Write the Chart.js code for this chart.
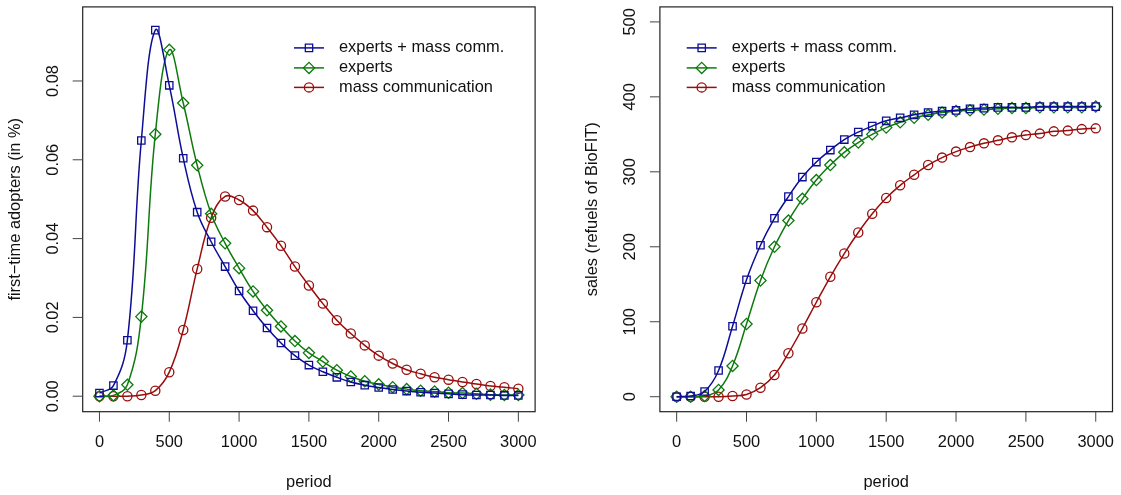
<!DOCTYPE html>
<html>
<head>
<meta charset="utf-8">
<script src="https://cdn.jsdelivr.net/npm/chart.js@4/dist/chart.umd.min.js"></script>
<style>
html, body { margin: 0; padding: 0; background: #fff; }
#wrap { position: relative; width: 1121px; height: 495px; }
canvas { position: absolute; top: 0; }
</style>
</head>
<body>
<div id="wrap">
<canvas id="adopters" width="560" height="495" style="left:0"></canvas>
<canvas id="sales" width="561" height="495" style="left:560px"></canvas>
</div>
<script>
// periods sampled every 100
var periods = [0,100,200,300,400,500,600,700,800,900,1000,1100,1200,1300,1400,1500,
               1600,1700,1800,1900,2000,2100,2200,2300,2400,2500,2600,2700,2800,2900,3000];

var seriesNames = ['experts + mass comm.', 'experts', 'mass communication'];

// first-time adopters
var adoptBoth = [0.0008,0.0027,0.0142,0.0649,0.0929,0.0789,0.0604,0.0467,0.0392,0.0329,0.0267,
                 0.0217,0.0173,0.0135,0.0103,0.0079,0.0062,0.0048,0.0036,0.0028,0.0022,
                 0.0017,0.0013,0.0010,0.0008,0.0006,0.0004,0.0003,0.0003,0.0002,0.0002];
var adoptExperts = [0,0.0002,0.0029,0.0202,0.0665,0.0879,0.0744,0.0586,0.0463,0.0388,0.0325,
                    0.0266,0.0218,0.0177,0.0140,0.0110,0.0088,0.0066,0.0050,0.0038,0.0030,
                    0.0023,0.0018,0.0014,0.0012,0.0009,0.0008,0.0006,0.0004,0.0003,0.0003];
var adoptMass = [0,0,0,0.0003,0.0014,0.0061,0.0168,0.0323,0.0453,0.0507,0.0498,
                 0.0471,0.0429,0.0382,0.0329,0.0281,0.0235,0.0193,0.0159,0.0129,0.0103,
                 0.0083,0.0067,0.0057,0.0048,0.0042,0.0036,0.0031,0.0026,0.0023,0.0019];

// sales (refuels of BioFIT)
var salesBoth = [0,1,7,35,94,156,202,238,267,293,313,329,343,353,361,368,
                 372,376,379,381,382,384,385,386,386,386,387,387,387,387,387];
var salesExperts = [0,0,1,9,41,97,155,200,235,264,289,309,326,339,350,359,
                    366,372,376,379,381,382,383,384,385,385,386,386,386,386,387];
var salesMass = [0,0,0,0,1,3,12,29,58,91,126,160,191,219,244,265,
                 282,296,309,319,327,333,338,342,346,349,351,354,355,357,358];

var xTicks = [0,500,1000,1500,2000,2500,3000];
var adoptTicks = [0,0.02,0.04,0.06,0.08];
var salesTicks = [0,100,200,300,400,500];

var colors = ['#0d0d96', '#0d7a0d', '#9a0d0d'];
var styles = ['rect', 'rectRot', 'circle'];
var radii = [5.2, 5.6, 4.6];
var FONT = '16.4px "Liberation Sans", Arial, Helvetica, sans-serif';

function makeSets(values) {
    return values.map(function (vals, i) {
        return {
            label: seriesNames[i],
            data: periods.map(function (p, j) { return {x: p, y: vals[j]}; }),
            borderColor: colors[i],
            borderWidth: 1.5,
            tension: 0.4,
            fill: false,
            pointStyle: styles[i],
            pointRadius: radii[i],
            pointBorderWidth: 1.3,
            pointBorderColor: colors[i],
            pointBackgroundColor: 'rgba(0,0,0,0)'
        };
    });
}

// R-like frame: box, outward ticks, rotated y labels, titles and legend
var rFrame = {
    id: 'rFrame',
    afterDraw: function (chart, args, o) {
        var ctx = chart.ctx, a = chart.chartArea;
        var xs = chart.scales.x, ys = chart.scales.y;
        ctx.save();
        ctx.strokeStyle = '#222';
        ctx.lineWidth = 1.2;
        ctx.strokeRect(a.left, a.top, a.right - a.left, a.bottom - a.top);

        ctx.font = FONT;
        ctx.fillStyle = '#111';
        ctx.strokeStyle = '#444';
        ctx.lineWidth = 1;
        ctx.textAlign = 'center';
        ctx.textBaseline = 'middle';
        o.xTicks.forEach(function (v) {
            var px = xs.getPixelForValue(v);
            ctx.beginPath();
            ctx.moveTo(px, a.bottom);
            ctx.lineTo(px, a.bottom + 10);
            ctx.stroke();
            ctx.fillText(String(v), px, a.bottom + 31);
        });
        o.yTicks.forEach(function (v) {
            var py = ys.getPixelForValue(v);
            ctx.beginPath();
            ctx.moveTo(a.left - 10, py);
            ctx.lineTo(a.left, py);
            ctx.stroke();
            ctx.save();
            ctx.translate(a.left - 29, py);
            ctx.rotate(-Math.PI / 2);
            ctx.fillText(o.yFormat(v), 0, 0);
            ctx.restore();
        });

        ctx.fillText(o.xTitle, (a.left + a.right) / 2, a.bottom + 71);
        ctx.save();
        ctx.translate(a.left - 67, (a.top + a.bottom) / 2);
        ctx.rotate(-Math.PI / 2);
        ctx.fillText(o.yTitle, 0, 0);
        ctx.restore();

        // legend
        ctx.textAlign = 'left';
        chart.data.datasets.forEach(function (ds, i) {
            var y = a.top + o.legendRows[i];
            var x0 = a.left + o.legendX;
            ctx.strokeStyle = ds.borderColor;
            ctx.lineWidth = 1.5;
            ctx.beginPath();
            ctx.moveTo(x0, y);
            ctx.lineTo(x0 + 30, y);
            ctx.stroke();
            ctx.fillStyle = 'rgba(0,0,0,0)';
            ctx.lineWidth = 1.3;
            Chart.helpers.drawPoint(ctx, {pointStyle: ds.pointStyle, radius: ds.pointRadius,
                                          rotation: 0, borderWidth: 1.3}, x0 + 15, y);
            ctx.fillStyle = '#111';
            ctx.fillText(ds.label, x0 + 45, y);
        });
        ctx.restore();
    }
};

function baseOptions(pad, ymin, ymax, frame) {
    return {
        responsive: false,
        animation: false,
        layout: { padding: pad },
        scales: {
            x: { type: 'linear', display: false, min: -120, max: 3120 },
            y: { type: 'linear', display: false, min: ymin, max: ymax }
        },
        plugins: {
            legend: { display: false },
            tooltip: { enabled: false },
            rFrame: frame
        }
    };
}

new Chart(document.getElementById('adopters'), {
    type: 'line',
    data: { datasets: makeSets([adoptBoth, adoptExperts, adoptMass]) },
    options: baseOptions({left: 82.7, right: 24.9, top: 1.5, bottom: 83.3}, -0.00393, 0.0988, {
        xTicks: xTicks,
        yTicks: adoptTicks,
        yFormat: function (v) { return v.toFixed(2); },
        xTitle: 'period',
        yTitle: 'first\u2212time adopters (in %)',
        legendX: 211.3,
        legendRows: [41, 61, 80.5]
    }),
    plugins: [rFrame]
});

new Chart(document.getElementById('sales'), {
    type: 'line',
    data: { datasets: makeSets([salesBoth, salesExperts, salesMass]) },
    options: baseOptions({left: 99.9, right: 8.5, top: 1.5, bottom: 83.3}, -20, 520, {
        xTicks: xTicks,
        yTicks: salesTicks,
        yFormat: function (v) { return String(v); },
        xTitle: 'period',
        yTitle: 'sales (refuels of BioFIT)',
        legendX: 26.8,
        legendRows: [41, 61, 80.5]
    }),
    plugins: [rFrame]
});
</script>
</body>
</html>
